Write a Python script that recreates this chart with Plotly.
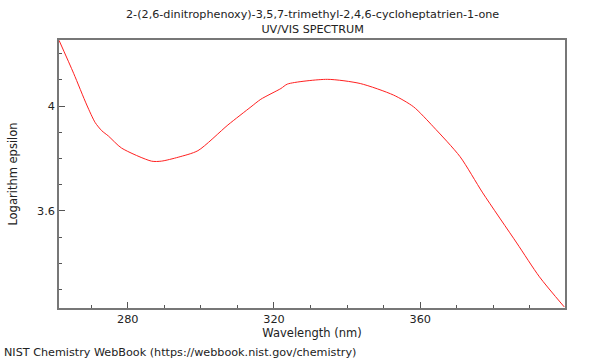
import plotly.graph_objects as go

wavelength = [261.2, 265.2, 268.8, 271.1, 272.9, 274.7, 278.3, 286.5, 289.2, 293.8,
              299.2, 307.4, 313.7, 316.4, 321.9, 323.7, 334.6, 343.6, 352.7, 358.2,
              363.6, 370.9, 377.1, 386.4, 392.6, 399.4]
log_eps = [4.251, 4.125, 4.004, 3.937, 3.906, 3.886, 3.840, 3.790, 3.790, 3.805,
           3.830, 3.928, 3.997, 4.026, 4.067, 4.084, 4.102, 4.086, 4.042, 3.997,
           3.921, 3.807, 3.669, 3.478, 3.349, 3.234]

title_lines = ["2-(2,6-dinitrophenoxy)-3,5,7-trimethyl-2,4,6-cycloheptatrien-1-one",
               "UV/VIS SPECTRUM"]
x_title = "Wavelength (nm)"
y_title = "Logarithm epsilon"
footer = "NIST Chemistry WebBook (https://webbook.nist.gov/chemistry)"

FONT = "DejaVu Sans"

fig = go.Figure()
fig.add_trace(go.Scatter(x=wavelength, y=log_eps, mode="lines",
                         line=dict(color="#ff2020", width=1, shape="spline", smoothing=0.7),
                         hoverinfo="skip"))

axis_common = dict(showgrid=False, zeroline=False, showline=True, mirror=True,
                   linecolor="#777777", linewidth=1.5, ticks="inside",
                   tickcolor="#555555", ticklen=6, tickwidth=1,
                   tickfont=dict(family=FONT, size=11.3, color="#222222"))

fig.update_layout(
    width=600, height=360,
    margin=dict(l=57, r=35, t=40, b=52),
    paper_bgcolor="white", plot_bgcolor="white",
    showlegend=False,
    font=dict(family=FONT, size=11, color="#222222"),
    xaxis=dict(range=[261.2, 399.6], tick0=280, dtick=40,
               minor=dict(dtick=10, tick0=260, ticks="inside", ticklen=3, tickcolor="#555555"),
               title=dict(text=x_title, font=dict(family=FONT, size=11.5), standoff=4),
               **axis_common),
    yaxis=dict(range=[3.23, 4.252], tick0=3.6, dtick=0.4,
               minor=dict(dtick=0.1, tick0=3.2, ticks="inside", ticklen=3, tickcolor="#555555"),
               title=dict(text=y_title, font=dict(family=FONT, size=11.5), standoff=17),
               **axis_common),
)

fig.add_annotation(text=title_lines[0] + "<br>" + title_lines[1],
                   xref="paper", yref="paper", x=0.5, y=1, yanchor="bottom",
                   yshift=2, showarrow=False, font=dict(family=FONT, size=11.2))
fig.add_annotation(text=footer, xref="paper", yref="paper", x=0, xanchor="left",
                   xshift=-57, y=0, yanchor="top", yshift=-36, showarrow=False,
                   font=dict(family=FONT, size=11.2))

fig.write_html("out.html")
